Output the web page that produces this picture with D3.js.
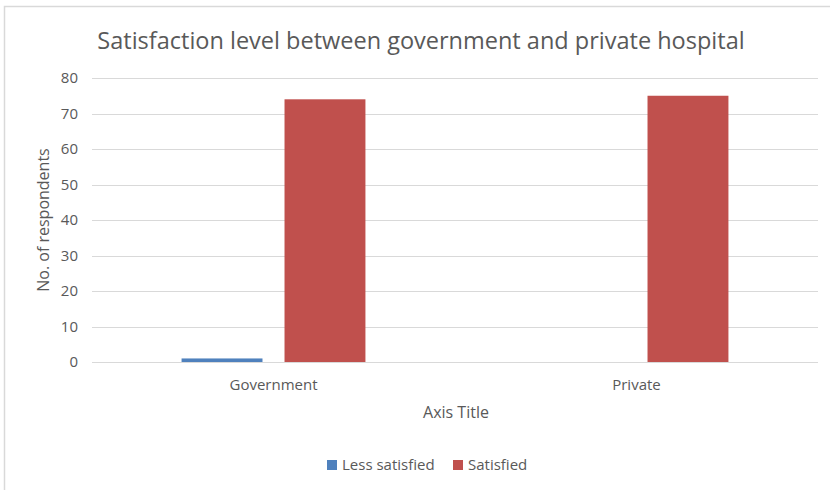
<!DOCTYPE html>
<html lang="en">
<head>
    <meta charset="UTF-8">
    <title>Satisfaction level</title>
    <script src="https://d3js.org/d3.v7.min.js"></script>
    <style>
        html, body{
            margin:0;
            background:#fff;
        }
        #chart{
            width:830px;
            height:490px;
        }
        text{
            font-family: "Open Sans", "Noto Sans", sans-serif;
            fill:#595959;
        }
        .grid line{
            stroke:#d9d9d9;
            stroke-width:1;
        }
    </style>
</head>
<body>
<div id="chart"></div>

<script>
    // data
    var categories = ["Government", "Private"];
    var seriesNames = ["Less satisfied", "Satisfied"];
    var lessSatisfied = [1, 0];
    var satisfied = [74, 75];
    var yTicks = [0, 10, 20, 30, 40, 50, 60, 70, 80];
    var colors = ["#4f81bd", "#c0504d"];

    var cwidth = 830, cheight = 490;
    var margin = {top: 78, right: 12, bottom: 128, left: 92}
        , width = cwidth - margin.left - margin.right
        , height = cheight - margin.top - margin.bottom;

    var svg = d3.select("#chart").append("svg")
        .attr("width", cwidth)
        .attr("height", cheight);

    // chart border (runs off the right and bottom edge)
    svg.append("rect")
        .attr("x", 4.5)
        .attr("y", 6.5)
        .attr("width", cwidth + 10)
        .attr("height", cheight + 10)
        .attr("fill", "none")
        .attr("stroke", "#d9d9d9")
        .attr("stroke-width", 1.5);

    var g = svg.append("g")
        .attr("transform", "translate(" + margin.left + "," + margin.top + ")");

    var yScale = d3.scaleLinear()
        .domain([0, 80])
        .range([height, 0]);

    var x0 = d3.scaleBand()
        .domain(categories)
        .range([0, width])
        .padding(0);

    var x1 = d3.scaleBand()
        .domain(seriesNames)
        .range([0, x0.bandwidth()])
        .paddingInner(0.214)
        .paddingOuter(0.87);

    // gridlines
    g.append("g")
        .attr("class", "grid")
        .selectAll("line")
        .data(yTicks)
        .join("line")
        .attr("x1", 0)
        .attr("x2", width)
        .attr("y1", function(d) { return Math.round(yScale(d)) + 0.5; })
        .attr("y2", function(d) { return Math.round(yScale(d)) + 0.5; });

    // y tick labels
    g.append("g")
        .selectAll("text")
        .data(yTicks)
        .join("text")
        .attr("x", -14)
        .attr("y", function(d) { return yScale(d); })
        .attr("dy", "0.35em")
        .attr("text-anchor", "end")
        .style("font-size", "15px")
        .text(function(d) { return d; });

    // bars
    var rows = categories.map(function(c, i) {
        return {cat: c, values: [lessSatisfied[i], satisfied[i]]};
    });

    var groups = g.selectAll(".group")
        .data(rows)
        .join("g")
        .attr("class", "group")
        .attr("transform", function(d) { return "translate(" + x0(d.cat) + ",0)"; });

    groups.selectAll("rect")
        .data(function(d) {
            return d.values.map(function(v, j) { return {name: seriesNames[j], value: v, color: colors[j]}; });
        })
        .join("rect")
        .attr("x", function(d) { return x1(d.name); })
        .attr("width", x1.bandwidth())
        .attr("y", function(d) { return yScale(d.value); })
        .attr("height", function(d) { return height - yScale(d.value); })
        .attr("fill", function(d) { return d.color; });

    // category labels
    g.append("g")
        .selectAll("text")
        .data(categories)
        .join("text")
        .attr("x", function(d) { return x0(d) + x0.bandwidth() / 2; })
        .attr("y", height + 28)
        .attr("text-anchor", "middle")
        .style("font-size", "15px")
        .text(function(d) { return d; });

    // title
    svg.append("text")
        .attr("x", 421)
        .attr("y", 49)
        .attr("text-anchor", "middle")
        .style("font-size", "23.5px")
        .text("Satisfaction level between government and private hospital");

    // axis titles
    svg.append("text")
        .attr("x", 456)
        .attr("y", 418)
        .attr("text-anchor", "middle")
        .style("font-size", "16px")
        .text("Axis Title");

    svg.append("text")
        .attr("transform", "translate(49," + (margin.top + height / 2) + ") rotate(-90)")
        .attr("text-anchor", "middle")
        .style("font-size", "16px")
        .text("No. of respondents");

    // legend
    var legendX = [327, 453];
    var legend = svg.append("g")
        .selectAll("g")
        .data(seriesNames)
        .join("g")
        .attr("transform", function(d, i) { return "translate(" + legendX[i] + ",460)"; });

    legend.append("rect")
        .attr("width", 10)
        .attr("height", 10)
        .attr("fill", function(d, i) { return colors[i]; });

    legend.append("text")
        .attr("x", 15)
        .attr("y", 5)
        .attr("dy", "0.35em")
        .style("font-size", "15px")
        .text(function(d) { return d; });
</script>
</body>
</html>
